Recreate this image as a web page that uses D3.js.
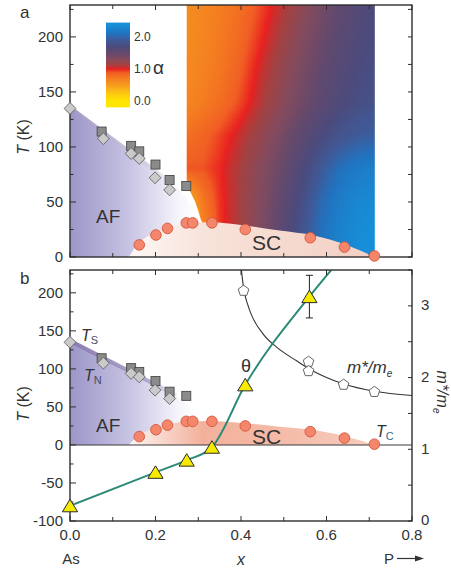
<!DOCTYPE html>
<html><head><meta charset="utf-8">
<script src="https://cdn.jsdelivr.net/npm/d3@7"></script>
<style>body{margin:0;background:#fff}svg{display:block;font-family:"Liberation Sans",Arial,sans-serif}</style>
</head><body><svg id="c" width="451" height="572"></svg>
<script>
// ---------------- data ----------------
const squareX = [0.074,0.143,0.162,0.200,0.233,0.272];
const squareT = [114,101,96,84,70,64.5];
const diamondX = [0.0,0.078,0.143,0.162,0.199,0.233];
const diamondT = [135,107.5,94,89.5,72,61];
const tcX = [0.162,0.201,0.228,0.272,0.287,0.332,0.410,0.562,0.642,0.712];
const tcT = [11,20,26,31,31,31,25,17.5,9,1];
const thetaX = [0,0.2,0.273,0.332,0.41,0.56];
const thetaT = [-80,-36,-20,-3,79,195];
const thetaErr = [0,0,0,0,0,28];
const thetaLineX = [0,0.2,0.273,0.332,0.41,0.56,0.62];
const thetaLineT = [-80,-36,-20,-3,79,195,236];
const mstarX = [0.406,0.558,0.558,0.64,0.712];
const mstarM = [3.21,2.22,2.09,1.90,1.80];
const mLineX = [0.401,0.406,0.415,0.4255,0.4528,0.484,0.531,0.56,0.60,0.64,0.712,0.8];
const mLineM = [3.5,3.25,3.03,2.86,2.6,2.42,2.23,2.12,2.0,1.91,1.81,1.75];
// phase boundaries
const afX = [0,0,0.25,0.27,0.285,0.295,0.30,0.30];
const afT = [0,135,63,55,45,35,28,0];
const tsLineX = [0,0.25];
const tsLineT = [135,63];
const scX = [0.137,0.165,0.2,0.23,0.27,0.33,0.4,0.49,0.57,0.65,0.713];
const scT = [0,14,22,27,30.5,31.5,29,24,19.5,10.5,0];
const heatEdgeX = [0.273,0.713,0.713,0.31,0.31,0.306,0.30,0.293,0.283,0.273];
const heatEdgeT = [232,232,0,0,31,34,42,50,58,66];
// exponent alpha map (panel a)
const alphaXs = [0.273,0.31,0.35,0.39,0.43,0.47,0.51,0.55,0.59,0.63,0.67,0.713];
const alphaTs = [230,200,170,140,110,80,50,20,0];
const alphaT230 = [0.6,0.64,0.7,0.77,0.87,0.99,1.12,1.27,1.4,1.52,1.62,1.7];
const alphaT200 = [0.6,0.65,0.72,0.8,0.92,1.05,1.2,1.34,1.46,1.57,1.66,1.72];
const alphaT170 = [0.62,0.67,0.74,0.84,0.98,1.12,1.27,1.4,1.52,1.62,1.7,1.76];
const alphaT140 = [0.65,0.71,0.79,0.9,1.03,1.18,1.32,1.45,1.57,1.67,1.75,1.8];
const alphaT110 = [0.78,0.84,0.93,1.03,1.16,1.3,1.44,1.58,1.71,1.82,1.9,1.95];
const alphaT80 = [0.9,0.9,0.98,1.1,1.24,1.38,1.53,1.7,1.9,2.08,2.18,2.24];
const alphaT50 = [0.3,0.72,0.96,1.1,1.26,1.42,1.6,1.8,2.03,2.2,2.3,2.35];
const alphaT20 = [0.15,0.6,0.95,1.1,1.27,1.45,1.65,1.86,2.1,2.26,2.35,2.4];
const alphaT0 = [0.15,0.6,0.95,1.1,1.27,1.45,1.65,1.86,2.1,2.26,2.35,2.4];
const alphaStops = [0,0.25,0.5,0.7,0.88,0.96,1.0,1.05,1.14,1.3,1.5,1.7,1.9,2.1,2.4];
const alphaColors = ["#ffe600","#fdc612","#f69a1f","#f47e20","#f05e23","#ea3420","#e82020","#c8302f","#a34242","#864a5c","#64496c","#4c4a7c","#3f5a98","#2272be","#1690da"];
const colorbarTicks = [0,1,2];
const aTicks = [0,50,100,150,200];
const bTicks = [-100,-50,0,50,100,150,200];
const mTicks = [0,1,2,3];
const xTicks = [0,0.2,0.4,0.6,0.8];

// ---------------- setup ----------------
const svg = d3.select('#c');
const defs = svg.append('defs');
const x = d3.scaleLinear([0,0.8],[70,412]);
const ya = d3.scaleLinear([0,229],[257,5]);
const yb = d3.scaleLinear([-100,230],[521,270]);
const ym = d3.scaleLinear([0,3.5],[521,270]);
const aColor = d3.scaleLinear().domain(alphaStops).range(alphaColors).clamp(true);
const alphaGrid = [alphaT230,alphaT200,alphaT170,alphaT140,alphaT110,alphaT80,alphaT50,alphaT20,alphaT0];
const ink = "#2e2e2e";

defs.append('clipPath').attr('id','clipA').append('rect').attr('x',70).attr('y',5).attr('width',342).attr('height',252);
defs.append('clipPath').attr('id','clipB').append('rect').attr('x',70).attr('y',270).attr('width',342).attr('height',251);

function grad(id, x1, x2, stops){
  const g = defs.append('linearGradient').attr('id',id).attr('gradientUnits','userSpaceOnUse')
    .attr('x1',x1).attr('x2',x2).attr('y1',0).attr('y2',0);
  stops.forEach(s=>g.append('stop').attr('offset',s[0]).attr('stop-color',s[1]).attr('stop-opacity',s[2]==null?1:s[2]));
}
grad('afGrad', x(0), x(0.3), [[0,"#9b96c8"],[0.45,"#c6c2e2"],[0.85,"#f6f5fb"],[1,"#ffffff"]]);
grad('scGradA', x(0.137), x(0.713), [[0,"#fdf8f6"],[0.3,"#f8e3da"],[1,"#f3cfc2"]]);
grad('scGradB', x(0.137), x(0.713), [[0,"#fdf6f3"],[0.3,"#f3b19c"],[0.55,"#f4b8a4"],[1,"#f7cdbf"]]);
grad('tsGradA', x(0), x(0.25), [[0,"#8677ad",0.75],[0.7,"#8677ad",0.35],[1,"#8677ad",0]]);
grad('tsGradB', x(0), x(0.25), [[0,"#8574ab",0.95],[0.75,"#8574ab",0.6],[1,"#8574ab",0.1]]);

function alphaAt(xv,tv){
  let i = d3.bisectRight(alphaXs, xv)-1; i = Math.max(0, Math.min(alphaXs.length-2, i));
  const fx = Math.max(0, Math.min(1, (xv-alphaXs[i])/(alphaXs[i+1]-alphaXs[i])));
  let j = 0; while (j < alphaTs.length-2 && tv < alphaTs[j+1]) j++;
  const ft = Math.max(0, Math.min(1, (alphaTs[j]-tv)/(alphaTs[j]-alphaTs[j+1])));
  const g = alphaGrid;
  const a = g[j][i]*(1-fx)+g[j][i+1]*fx, b = g[j+1][i]*(1-fx)+g[j+1][i+1]*fx;
  return a*(1-ft)+b*ft;
}

function polyPath(xs, ts, ys){ return d3.line().x((d,i)=>x(xs[i])).y((d,i)=>ys(ts[i]))(xs) + 'Z'; }
function domePath(ys){
  const top = d3.line().x((d,i)=>x(scX[i])).y((d,i)=>ys(scT[i])).curve(d3.curveMonotoneX)(scX);
  return top + 'Z';
}

function phases(g, ys, panel){
  g.append('path').attr('d', d3.line().x((d,i)=>x(afX[i])).y((d,i)=>ys(afT[i])).curve(d3.curveLinear)(afX)+'Z')
    .attr('fill','url(#afGrad)');
  g.append('path').attr('d', domePath(ys)).attr('fill', panel==='a' ? 'url(#scGradA)' : 'url(#scGradB)');
  g.append('path').attr('d', d3.line().x((d,i)=>x(tsLineX[i])).y((d,i)=>ys(tsLineT[i])-1.5)(tsLineX))
    .attr('stroke', panel==='a' ? 'url(#tsGradA)' : 'url(#tsGradB)').attr('stroke-width', panel==='a'?3:4).attr('fill','none');
}

function markers(g, ys){
  g.selectAll('rect.sq').data(squareX).join('rect').attr('class','sq')
    .attr('x',(d,i)=>x(d)-4.5).attr('y',(d,i)=>ys(squareT[i])-4.5).attr('width',9).attr('height',9)
    .attr('fill','#8b8b8b').attr('stroke','#4a4a4a').attr('stroke-width',0.9);
  const dia = d3.symbol(d3.symbolSquare, 70)();
  g.selectAll('path.dia').data(diamondX).join('path').attr('class','dia').attr('d',dia)
    .attr('transform',(d,i)=>`translate(${x(d)},${ys(diamondT[i])}) rotate(45)`)
    .attr('fill','#cacaca').attr('stroke','#6a6a6a').attr('stroke-width',0.9);
  g.selectAll('circle.tc').data(tcX).join('circle').attr('class','tc')
    .attr('cx',d=>x(d)).attr('cy',(d,i)=>ys(tcT[i])).attr('r',5.3)
    .attr('fill','#f3866b').attr('stroke','#d2583e').attr('stroke-width',0.9);
}

function frameAxes(g, ys, yMin, yMax, yStep, yMajor, top, bottom){
  d3.range(0, 0.801, 0.1).forEach(v=>{
    const px = x(v), big = Math.abs(Math.round(v*10)%2)===0;
    g.append('line').attr('x1',px).attr('x2',px).attr('y1',bottom).attr('y2',bottom-(big?5:4)).attr('stroke',ink).attr('stroke-width',1);
    g.append('line').attr('x1',px).attr('x2',px).attr('y1',top).attr('y2',top+(big?5:4)).attr('stroke',ink).attr('stroke-width',1);
  });
  d3.range(yMin, yMax+0.1, yStep).forEach(v=>{
    const py = ys(v), big = (Math.round(v)%yMajor)===0;
    g.append('line').attr('x1',70).attr('x2',70+(big?6:3.5)).attr('y1',py).attr('y2',py).attr('stroke',ink).attr('stroke-width',1);
  });
  g.append('rect').attr('x',70).attr('y',top).attr('width',342).attr('height',bottom-top)
    .attr('fill','none').attr('stroke',ink).attr('stroke-width',1.4);
}

// ---------------- panel a ----------------
const A = svg.append('g');
const heatClip = defs.append('clipPath').attr('id','heatClip');
heatClip.append('path').attr('d', polyPath(heatEdgeX, heatEdgeT, ya));
const cells = [];
const hx0 = Math.floor(x(alphaXs[0])), hx1 = Math.ceil(x(alphaXs[alphaXs.length-1]));
for (let px = hx0; px < hx1; px += 2) for (let py = 5; py < 257; py += 2)
  cells.push({px, py, a: alphaAt(x.invert(px+1), ya.invert(py+1))});
const H = A.append('g').attr('clip-path','url(#heatClip)');
H.selectAll('rect').data(cells).join('rect')
  .attr('x',d=>d.px).attr('y',d=>d.py).attr('width',2).attr('height',2)
  .attr('fill',d=>aColor(d.a)).attr('shape-rendering','crispEdges');
const Aclip = A.append('g').attr('clip-path','url(#clipA)');
phases(Aclip, ya, 'a');
frameAxes(A, ya, 0, 225, 25, 50, 5, 257);
markers(A.append('g'), ya);
d3.range(0, 226, 25).forEach(v=>{
  A.append('line').attr('x1',412).attr('x2',408).attr('y1',ya(v)).attr('y2',ya(v)).attr('stroke',ink).attr('stroke-width',1);
});
A.selectAll('text.yt').data(aTicks).join('text').attr('class','yt')
  .attr('x',63).attr('y',d=>ya(d)).attr('dy','0.36em').attr('text-anchor','end')
  .attr('font-size',15).attr('fill','#333').text(d=>d);
A.append('text').attr('transform','translate(29,137) rotate(-90)').attr('text-anchor','middle')
  .attr('font-size',16).attr('fill','#333')
  .call(t=>{t.append('tspan').attr('font-style','italic').text('T'); t.append('tspan').text(' (K)');});
A.append('text').attr('x',20).attr('y',18).attr('font-size',17).attr('fill','#333').text('a');
A.append('text').attr('x',96).attr('y',223).attr('font-size',19).attr('fill','#333').text('AF');
A.append('text').attr('x',252).attr('y',249.5).attr('font-size',21).attr('fill','#333').text('SC');
// colorbar
const cb = d3.scaleLinear([0,2],[101,37]);
const cbStops = d3.range(-0.2, 2.45, 0.02);
const cbg = defs.append('linearGradient').attr('id','cbV').attr('gradientUnits','userSpaceOnUse')
  .attr('x1',0).attr('x2',0).attr('y1',cb(-0.2)).attr('y2',cb(2.45));
cbStops.forEach(a=>cbg.append('stop').attr('offset',(a+0.2)/2.65).attr('stop-color',aColor(a)));
A.append('rect').attr('x',106).attr('y',cb(2.45)).attr('width',24).attr('height',cb(-0.2)-cb(2.45)).attr('fill','url(#cbV)');
A.selectAll('text.cbt').data(colorbarTicks).join('text').attr('class','cbt')
  .attr('x',134).attr('y',d=>cb(d)).attr('dy','0.36em').attr('font-size',12).attr('fill','#333').text(d=>d.toFixed(1));
A.append('text').attr('x',153).attr('y',74).attr('font-size',19).attr('fill','#333').text('α');

// ---------------- panel b ----------------
const B = svg.append('g');
const Bclip = B.append('g').attr('clip-path','url(#clipB)');
phases(Bclip, yb, 'b');
Bclip.append('line').attr('x1',70).attr('x2',412).attr('y1',yb(0)).attr('y2',yb(0)).attr('stroke','#3a3a3a').attr('stroke-width',1.1);
Bclip.append('path').attr('d', d3.line().x((d,i)=>x(mLineX[i])).y((d,i)=>ym(mLineM[i])).curve(d3.curveMonotoneX)(mLineX))
  .attr('fill','none').attr('stroke','#333').attr('stroke-width',1.1);
Bclip.append('path').attr('d', d3.line().x((d,i)=>x(thetaLineX[i])).y((d,i)=>yb(thetaLineT[i])).curve(d3.curveMonotoneX)(thetaLineX))
  .attr('fill','none').attr('stroke','#2a8a77').attr('stroke-width',2);
frameAxes(B, yb, -100, 225, 25, 50, 270, 521);
const Bm = B.append('g');
markers(Bm, yb);
// pentagons
const pent = d3.range(5).map(k=>{const a=-Math.PI/2+k*2*Math.PI/5; return [5.6*Math.cos(a),5.6*Math.sin(a)];});
const pentPath = 'M'+pent.map(p=>p.join(',')).join('L')+'Z';
Bm.selectAll('path.pe').data(mstarX).join('path').attr('class','pe').attr('d',pentPath)
  .attr('transform',(d,i)=>`translate(${x(d)},${ym(mstarM[i])})`)
  .attr('fill','#fff').attr('stroke','#555').attr('stroke-width',0.9);
// theta error bars + triangles
thetaX.forEach((d,i)=>{
  if (!thetaErr[i]) return;
  const px = x(d), y1 = yb(thetaT[i]-thetaErr[i]), y2 = yb(thetaT[i]+thetaErr[i]);
  Bm.append('path').attr('d',`M${px},${y1}V${y2}M${px-3.5},${y1}H${px+3.5}M${px-3.5},${y2}H${px+3.5}`)
    .attr('stroke','#222').attr('stroke-width',1).attr('fill','none');
});
Bm.selectAll('path.tri').data(thetaX).join('path').attr('class','tri')
  .attr('d','M0,-6.5L7.6,6L-7.6,6Z')
  .attr('transform',(d,i)=>`translate(${x(d)},${yb(thetaT[i])})`)
  .attr('fill','#f6ea00').attr('stroke','#2a2a2a').attr('stroke-width',1);
d3.range(0, 3.51, 0.5).forEach(v=>{
  B.append('line').attr('x1',412).attr('x2',408).attr('y1',ym(v)).attr('y2',ym(v)).attr('stroke',ink).attr('stroke-width',1);
});
B.selectAll('text.yt').data(bTicks).join('text').attr('class','yt')
  .attr('x',63).attr('y',d=>yb(d)).attr('dy','0.36em').attr('text-anchor','end')
  .attr('font-size',15).attr('fill','#333').text(d=>d);
B.selectAll('text.mt').data(mTicks).join('text').attr('class','mt')
  .attr('x',421).attr('y',d=>ym(d)-1).attr('dy','0.36em')
  .attr('font-size',15).attr('fill','#333').text(d=>d);
B.selectAll('text.xt').data(xTicks).join('text').attr('class','xt')
  .attr('x',d=>x(d)).attr('y',540).attr('text-anchor','middle')
  .attr('font-size',15).attr('fill','#333').text(d=>d.toFixed(1));
B.append('text').attr('transform','translate(29,404) rotate(-90)').attr('text-anchor','middle')
  .attr('font-size',16).attr('fill','#333')
  .call(t=>{t.append('tspan').attr('font-style','italic').text('T'); t.append('tspan').text(' (K)');});
B.append('text').attr('transform','translate(437,392) rotate(90)').attr('text-anchor','middle')
  .attr('font-size',16).attr('fill','#333').attr('font-style','italic')
  .call(t=>{t.append('tspan').text('m*/m'); t.append('tspan').attr('font-size',10).attr('dy',4).text('e');});
B.append('text').attr('x',20).attr('y',284).attr('font-size',17).attr('fill','#333').text('b');
B.append('text').attr('x',96).attr('y',432).attr('font-size',19).attr('fill','#333').text('AF');
B.append('text').attr('x',252).attr('y',443.5).attr('font-size',21).attr('fill','#333').text('SC');
B.append('text').attr('x',241).attr('y',372).attr('font-size',18).attr('fill','#333').text('θ');
function subLabel(g, px, py, main, sub, subColor){
  g.append('text').attr('x',px).attr('y',py).attr('font-size',16).attr('fill','#333')
    .call(t=>{t.append('tspan').attr('font-style','italic').text(main);
              t.append('tspan').attr('font-size',11).attr('dy',3).attr('fill',subColor).text(sub);});
}
subLabel(B, 81, 341, 'T', 'S', '#4a4a6a');
subLabel(B, 84, 381, 'T', 'N', '#4a4a6a');
subLabel(B, 376, 437, 'T', 'C', '#3a6a8a');
B.append('text').attr('x',347).attr('y',373).attr('font-size',17).attr('fill','#333').attr('font-style','italic')
  .call(t=>{t.append('tspan').text('m*/m'); t.append('tspan').attr('font-size',10).attr('dy',4).text('e');});
B.append('text').attr('x',71).attr('y',564).attr('text-anchor','middle').attr('font-size',15).attr('fill','#333').text('As');
B.append('text').attr('x',241).attr('y',565).attr('text-anchor','middle').attr('font-size',16).attr('font-style','italic').attr('fill','#333').text('x');
B.append('text').attr('x',384).attr('y',564).attr('font-size',15).attr('fill','#333').text('P');
B.append('path').attr('d','M397,558.5H417').attr('stroke','#333').attr('stroke-width',1.2);
B.append('path').attr('d','M424,558.5L415,555.5L415,561.5Z').attr('fill','#333');
</script></body></html>
